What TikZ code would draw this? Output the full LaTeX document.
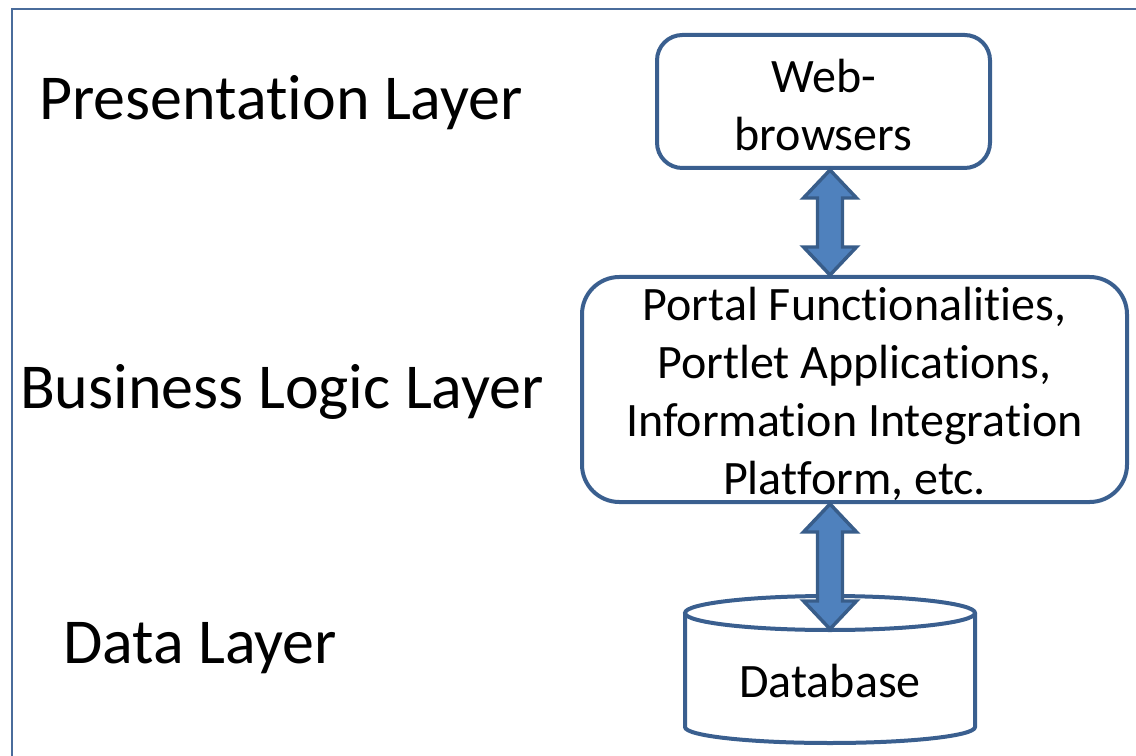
\documentclass[tikz,border=0pt]{standalone}
\usepackage{fontspec}
\setmainfont{Carlito}[Ligatures=NoCommon]
\usetikzlibrary{calc}
\definecolor{boxline}{HTML}{3A5F8F}
\definecolor{arrfill}{HTML}{4F81BD}
\definecolor{arrline}{HTML}{385D8A}
\definecolor{framec}{HTML}{4A6C9B}
\tikzset{
  layerlbl/.style={inner sep=0pt, font=\fontsize{48}{58}\selectfont},
  boxtxt/.style={align=center, inner sep=0pt, font=\fontsize{36}{43.5}\selectfont},
  rbox/.style={draw=boxline, line width=3pt, fill=white, inner sep=0pt},
  arr/.style={draw=arrline, line width=2.6pt, fill=arrfill, line join=miter},
  frame/.style={draw=framec, line width=1.5pt},
}
\newcommand\dblarrow[2]{%
  \draw[arr] (#1) -- ($(#1)+(26.5,28)$) -- ($(#1)+(12.5,28)$) -- ($(#2)+(12.5,-28)$)
    -- ($(#2)+(26.5,-28)$) -- (#2) -- ($(#2)+(-26.5,-28)$) -- ($(#2)+(-12.5,-28)$)
    -- ($(#1)+(-12.5,28)$) -- ($(#1)+(-26.5,28)$) -- cycle;}
\begin{document}
\begin{tikzpicture}[x=0.75pt,y=-0.75pt]
\useasboundingbox (0,0) rectangle (1136,756);
\draw[frame] (12,770) -- (12,9) -- (1150,9);

\node[layerlbl] (pl) at (281,103) {Presentation Layer};
\node[layerlbl] (bl) at (282,392) {Business Logic Layer};
\node[layerlbl] (dl) at (200,648) {Data Layer};

\node[rbox, rounded corners=19pt, minimum width=249.75pt, minimum height=99.75pt] (web) at (823.5,101.5) {};
\node[boxtxt] (webt) at ($(web.center)+(0,4)$) {Web-\\browsers};
\node[rbox, rounded corners=28pt, minimum width=408.75pt, minimum height=168.75pt] (biz) at (854.5,389.5) {};
\node[boxtxt] (bizt) at ($(biz.center)+(0,4)$)
  {Portal Functionalities,\\Portlet Applications,\\Information Integration\\Platform, etc.};

% database cylinder
\coordinate (dbc) at (830,613);
\filldraw[draw=boxline, line width=3pt, fill=white]
  (685,613) -- (685,727) arc[start angle=180, end angle=360, x radius=108.75pt, y radius=12pt]
  -- (975,613);
\draw[draw=boxline, line width=3pt] (dbc) ellipse[x radius=108.75pt, y radius=12.75pt];
\node[boxtxt] (db) at (830,681) {Database};
\coordinate (dbtop) at (830,629);

\coordinate (a1) at (web.south -| db);
\coordinate (a2) at (biz.north -| db);
\coordinate (a3) at (biz.south -| db);
\dblarrow{a1}{a2}
\dblarrow{a3}{dbtop}
\end{tikzpicture}
\end{document}
